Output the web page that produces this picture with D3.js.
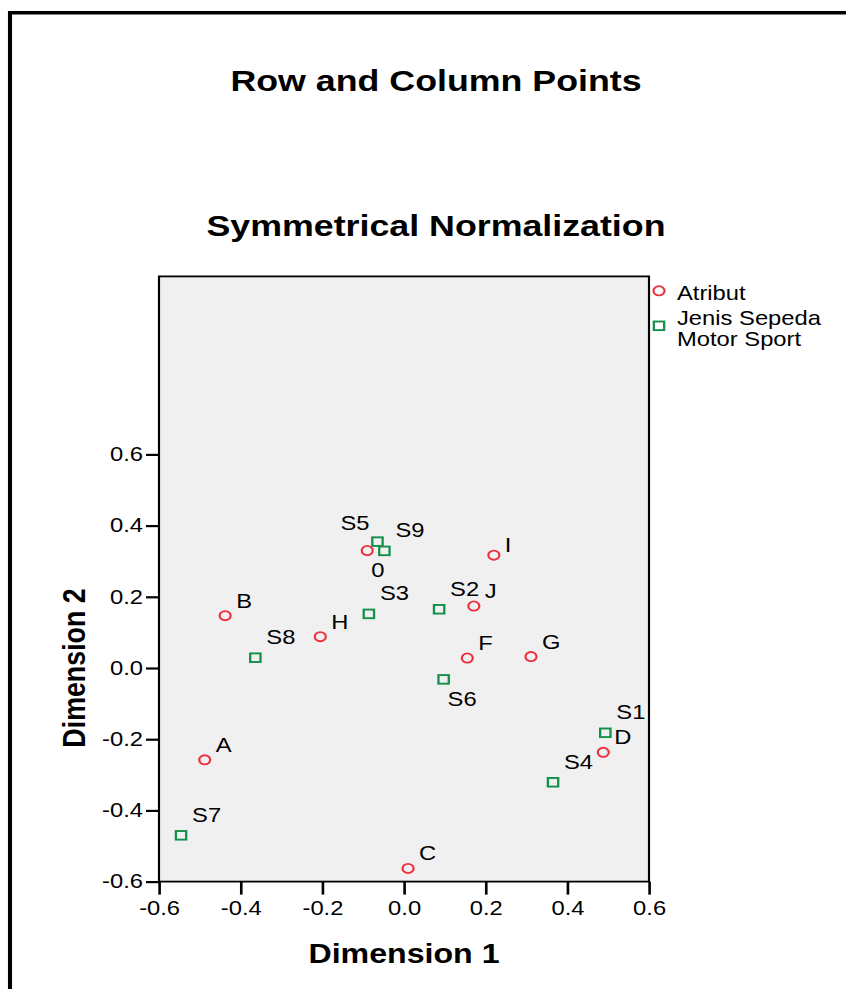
<!DOCTYPE html>
<html>
<head>
<meta charset="utf-8">
<script src="https://cdn.jsdelivr.net/npm/d3@7"></script>
<style>
  html, body { margin: 0; padding: 0; background: #ffffff; }
  svg { display: block; }
  text { font-family: "Liberation Sans", Arial, Helvetica, sans-serif; fill: #000; }
</style>
</head>
<body>
<svg id="chart" width="846" height="989"></svg>
<script>
// Correspondence analysis coordinates (Dimension 1, Dimension 2)
const atributLabels = ["A", "B", "C", "D", "0", "F", "G", "H", "I", "J"];
const atributDim1   = [-0.488, -0.438, 0.010, 0.488, -0.090, 0.155, 0.311, -0.205, 0.220, 0.171];
const atributDim2   = [-0.258, 0.147, -0.563, -0.237, 0.330, 0.028, 0.032, 0.088, 0.317, 0.174];

const jenisLabels = ["S1", "S2", "S3", "S4", "S5", "S6", "S7", "S8", "S9"];
const jenisDim1   = [0.493, 0.086, -0.086, 0.365, -0.065, 0.097, -0.546, -0.364, -0.048];
const jenisDim2   = [-0.182, 0.165, 0.152, -0.321, 0.355, -0.032, -0.470, 0.029, 0.329];

const xTicks = [-0.6, -0.4, -0.2, 0.0, 0.2, 0.4, 0.6];
const yTicks = [-0.6, -0.4, -0.2, 0.0, 0.2, 0.4, 0.6];

const seriesNames = ["Atribut", ["Jenis Sepeda", "Motor Sport"]];

// Labels that sit somewhere other than the default upper-right spot
const labelMode = { "S5": "upLeft", "0": "below", "S6": "below", "I": "right" };

// ---------------------------------------------------------------------------
const SX = 1.2;               // horizontal stretch of the whole drawing
const vx = px => px / SX;     // page x -> drawing x
const RED = "#ee2f3c", GREEN = "#11904a";
const FS = 19.8;              // regular text size

const svg = d3.select("#chart");
const root = svg.append("g").attr("transform", `scale(${SX},1)`);

// outer frame (top + left edges)
root.append("path")
  .attr("d", `M${vx(10)},989 L${vx(10)},12.7 L${vx(846)},12.7`)
  .attr("fill", "none").attr("stroke", "#000").attr("stroke-width", 3.4);

// titles
root.append("text").attr("x", vx(436)).attr("y", 91)
  .attr("text-anchor", "middle").attr("font-size", 29.8).attr("font-weight", "bold")
  .text("Row and Column Points");
root.append("text").attr("x", vx(436)).attr("y", 236)
  .attr("text-anchor", "middle").attr("font-size", 29.8).attr("font-weight", "bold")
  .text("Symmetrical Normalization");

// scales
const x = d3.scaleLinear().domain([-0.6, 0.6]).range([vx(159), vx(649)]);
const y = d3.scaleLinear().domain([-0.6, 1.1]).range([881.6, 276.4]);

// plot background
root.append("rect")
  .attr("x", x(-0.6)).attr("y", y(1.1))
  .attr("width", x(0.6) - x(-0.6)).attr("height", y(-0.6) - y(1.1))
  .attr("fill", "#f0f0f0").attr("stroke", "#000").attr("stroke-width", 1.8);

const fmt = d => d.toFixed(1);

// y axis
const yAxis = root.append("g").attr("transform", `translate(${x(-0.6)},0)`)
  .call(d3.axisLeft(y).tickValues(yTicks).tickFormat(fmt)
    .tickSize(vx(13)).tickPadding(vx(3)));
yAxis.select(".domain").remove();
yAxis.selectAll(".tick line").attr("stroke", "#000").attr("stroke-width", 2.2);
yAxis.selectAll(".tick text").attr("font-size", FS)
  .attr("font-family", "Liberation Sans, Arial, sans-serif").attr("fill", "#000");

// x axis
const xAxis = root.append("g").attr("transform", `translate(0,${y(-0.6)})`)
  .call(d3.axisBottom(x).tickValues(xTicks).tickFormat(fmt)
    .tickSize(13).tickPadding(6));
xAxis.select(".domain").remove();
xAxis.selectAll(".tick line").attr("stroke", "#000").attr("stroke-width", 2.2);
xAxis.selectAll(".tick text").attr("font-size", FS)
  .attr("font-family", "Liberation Sans, Arial, sans-serif").attr("fill", "#000");

// axis titles
root.append("text").attr("x", x(0)).attr("y", 963)
  .attr("text-anchor", "middle").attr("font-size", 26.8).attr("font-weight", "bold")
  .text("Dimension 1");
root.append("text")
  .attr("transform", `translate(${vx(85)},${y(0)}) rotate(-90)`)
  .attr("text-anchor", "middle").attr("font-size", 26.8).attr("font-weight", "bold")
  .text("Dimension 2");

// point data
const atribut = atributLabels.map((l, i) => ({ label: l, d1: atributDim1[i], d2: atributDim2[i], kind: "circle" }));
const jenis = jenisLabels.map((l, i) => ({ label: l, d1: jenisDim1[i], d2: jenisDim2[i], kind: "square" }));

const pts = root.append("g");

const R = 4.6;
pts.selectAll("circle.atr").data(atribut).join("circle")
  .attr("class", "atr")
  .attr("cx", d => x(d.d1)).attr("cy", d => y(d.d2)).attr("r", R)
  .attr("fill", "none").attr("stroke", RED).attr("stroke-width", 1.8);

const SQ = 8.6;
pts.selectAll("rect.jen").data(jenis).join("rect")
  .attr("class", "jen")
  .attr("x", d => x(d.d1) - SQ / 2).attr("y", d => y(d.d2) - SQ / 2)
  .attr("width", SQ).attr("height", SQ)
  .attr("fill", "none").attr("stroke", GREEN).attr("stroke-width", 1.9);

// point labels
function labelPos(d) {
  const mode = labelMode[d.label];
  const px = x(d.d1), py = y(d.d2);
  if (mode === "upLeft") return { x: px - vx(8), y: py - 12, anchor: "end" };
  if (mode === "below")  return { x: px + vx(4), y: py + 26.5, anchor: "start" };
  if (mode === "right")  return { x: px + vx(11), y: py - 3, anchor: "start" };
  return { x: px + vx(11), y: py + (d.kind === "circle" ? -8 : -13.5), anchor: "start" };
}

pts.selectAll("text.lbl").data(atribut.concat(jenis)).join("text")
  .attr("class", "lbl")
  .each(function (d) {
    const p = labelPos(d);
    d3.select(this).attr("x", p.x).attr("y", p.y).attr("text-anchor", p.anchor);
  })
  .attr("font-size", FS)
  .text(d => d.label);

// legend
const lg = root.append("g");
lg.append("circle").attr("cx", vx(659)).attr("cy", 290.8).attr("r", R)
  .attr("fill", "none").attr("stroke", RED).attr("stroke-width", 1.8);
lg.append("text").attr("x", vx(677)).attr("y", 300).attr("font-size", FS).text(seriesNames[0]);
lg.append("rect").attr("x", vx(659) - SQ / 2).attr("y", 325.8 - SQ / 2)
  .attr("width", SQ).attr("height", SQ)
  .attr("fill", "none").attr("stroke", GREEN).attr("stroke-width", 1.9);
lg.selectAll("text.ln").data(seriesNames[1]).join("text")
  .attr("class", "ln")
  .attr("x", vx(677)).attr("y", (d, i) => 325.5 + i * 21)
  .attr("font-size", FS).text(d => d);
</script>
</body>
</html>
